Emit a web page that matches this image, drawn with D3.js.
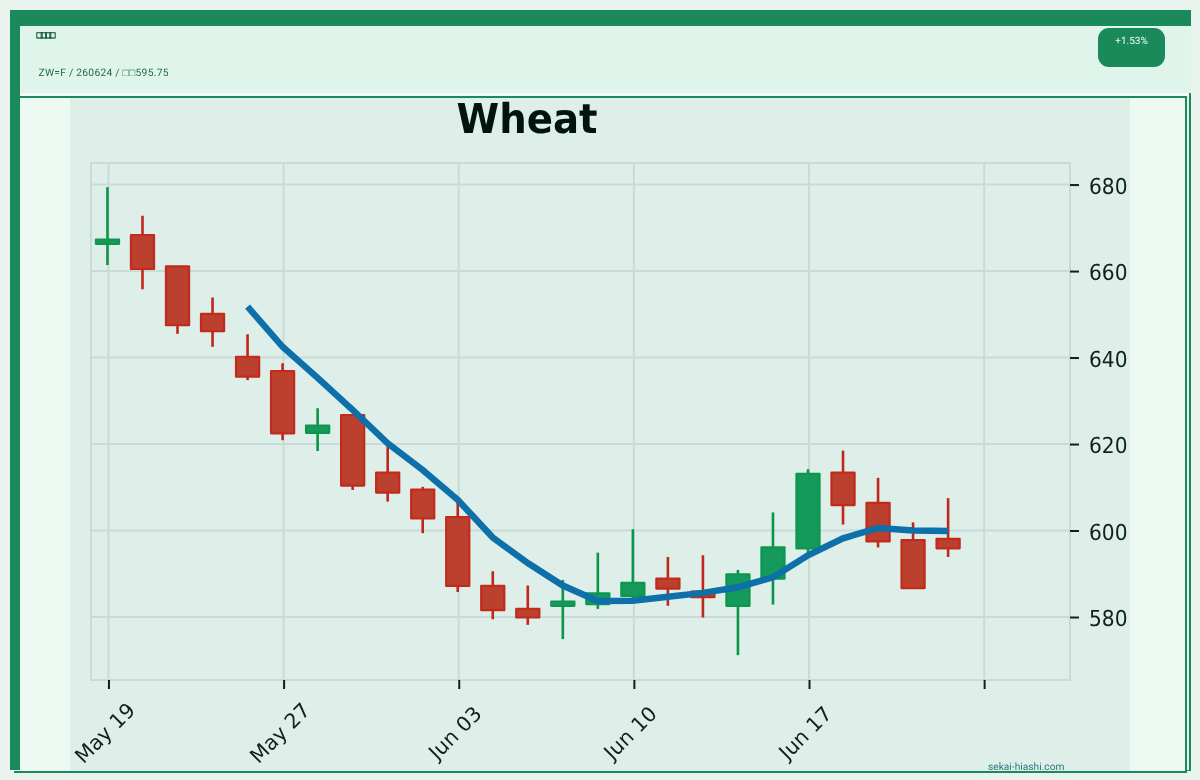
<!DOCTYPE html>
<html><head><meta charset="utf-8">
<script src="https://cdn.jsdelivr.net/npm/d3@7"></script>
<style>html,body{margin:0;padding:0;background:#eaf4ef;overflow:hidden}svg{display:block;text-rendering:geometricPrecision}</style>
</head><body><svg id="c" width="1200" height="780"></svg>
<script>
const chartTitle = "Wheat";
const headerName = "□□□□";
const headerInfo = "ZW=F / 260624 / □□595.75";
const changeLabel = "+1.53%";
const siteLabel = "sekai-hiashi.com";
const tickIndex = [0,5,10,15,20,25];
const tickLabels = ["May 19","May 27","Jun 03","Jun 10","Jun 17",""];
const priceTicks = [580,600,620,640,660,680];
const opens  = [666.4,668.4,661.2,650.2,640.3,637.0,622.7,626.8,613.5,609.6,603.2,587.3,582.0,582.7,583.1,585.0,589.0,586.0,582.7,589.0,596.0,613.5,606.5,597.9,598.2];
const highs  = [679.5,672.9,661.2,654.0,645.5,638.8,628.4,627.0,619.9,610.2,606.5,590.7,587.4,588.7,595.0,600.4,594.0,594.4,591.0,604.3,614.3,618.6,612.3,602.0,607.6];
const lows   = [661.5,655.9,645.6,642.6,634.9,621.0,618.5,609.5,606.8,599.5,585.9,579.6,578.3,575.0,582.0,584.4,582.7,580.0,571.3,583.0,594.5,601.5,596.2,586.6,594.0];
const closes = [667.4,660.6,647.6,646.2,635.7,622.6,624.4,610.5,608.9,602.9,587.3,581.7,580.0,583.7,585.6,588.0,586.7,584.7,590.0,596.2,613.2,606.0,597.6,586.8,596.0];
const smaStart = 4;
const smaValues = [651.9,642.6,635.4,628.0,620.3,614.1,607.2,598.5,592.6,587.4,583.8,583.9,584.8,585.7,587.0,589.3,594.4,598.3,600.7,600.1,600.0];

const svg = d3.select("#c");
const green = "#1b8a5a";
const box = (x,y,w,h,f,g=svg)=>g.append("rect").attr("x",x).attr("y",y).attr("width",w).attr("height",h).attr("fill",f);

box(10,10,1181,16,green);
box(10,10,10,760,green);
box(20,26,1171,67,"#dff4ea");
box(20,93,1171,3,"#f1faf6");
box(20,98,1165,673,"#ecfaf3");
box(70,98,1060,673,"#deefe9");

const defs = svg.append("defs");
defs.append("filter").attr("id","soft").append("feGaussianBlur").attr("stdDeviation",0.5);
const plot = svg.append("g").attr("filter","url(#soft)");

const x = d3.scaleLinear().domain([-0.47,27.48]).range([91,1070]);
const y = d3.scaleLinear().domain([565.55,685.1]).range([680,163]);
const gridC = "#c9dbd9", ink = "#10201c";

// grid + frame
plot.append("g").attr("transform","translate(1,0)").selectAll("line").data(tickIndex).join("line")
  .attr("x1",d=>x(d)).attr("x2",d=>x(d)).attr("y1",y.range()[1]).attr("y2",y.range()[0])
  .attr("stroke",gridC).attr("stroke-width",2);
plot.append("g").attr("transform","translate(0,-0.5)").selectAll("line").data(priceTicks).join("line")
  .attr("x1",x.range()[0]).attr("x2",x.range()[1]).attr("y1",d=>y(d)).attr("y2",d=>y(d))
  .attr("stroke",gridC).attr("stroke-width",2);
plot.append("rect").attr("x",x.range()[0]).attr("y",y.range()[1])
  .attr("width",x.range()[1]-x.range()[0]).attr("height",y.range()[0]-y.range()[1])
  .attr("fill","none").attr("stroke",gridC).attr("stroke-width",2);

// axes
const yAxis = d3.axisRight(y).tickValues(priceTicks).tickSize(9).tickPadding(10);
const gy = plot.append("g").attr("transform",`translate(${x.range()[1]},-0.5)`).call(yAxis);
gy.select(".domain").remove();
gy.selectAll("line").attr("stroke",ink).attr("stroke-width",2);
gy.selectAll("text").attr("font-family","DejaVu Sans").attr("font-size",22).attr("fill",ink)
  .attr("dy","0.4em").attr("textLength",38.5).attr("lengthAdjust","spacingAndGlyphs");

const xAxis = d3.axisBottom(x).tickValues(tickIndex).tickSize(9).tickFormat((d,i)=>tickLabels[i]);
const gx = plot.append("g").attr("transform",`translate(1,${y.range()[0]})`).call(xAxis);
gx.select(".domain").remove();
gx.selectAll("line").attr("stroke",ink).attr("stroke-width",2);
gx.selectAll("text").attr("font-family","DejaVu Sans").attr("font-size",20.5).attr("fill",ink)
  .attr("text-anchor","middle").attr("dy",0).attr("y",0)
  .attr("dominant-baseline","central")
  .attr("transform","translate(-4,53) rotate(-45)");

// candles
const idx = d3.range(opens.length);
const bw = x(0.66)-x(0);
const colUp = {wick:"#0a9447",edge:"#0e9650",fill:"#159a5b"};
const colDn = {wick:"#c0261a",edge:"#c12c1e",fill:"#bb3f2f"};
const col = i => closes[i]>=opens[i]?colUp:colDn;
plot.append("g").selectAll("line").data(idx).join("line")
  .attr("x1",x).attr("x2",x).attr("y1",i=>y(highs[i])).attr("y2",i=>y(lows[i]))
  .attr("stroke",i=>col(i).wick).attr("stroke-width",2.6);
plot.append("g").selectAll("rect").data(idx).join("rect")
  .attr("x",i=>x(i)-bw/2).attr("width",bw)
  .attr("y",i=>y(Math.max(opens[i],closes[i])))
  .attr("height",i=>Math.abs(y(opens[i])-y(closes[i])))
  .attr("fill",i=>col(i).fill).attr("stroke",i=>col(i).edge).attr("stroke-width",2.2)
  .attr("stroke-linejoin","round");

// moving average
const line = d3.line().x((d,i)=>x(i+smaStart)).y(d=>y(d));
plot.append("path").datum(smaValues).attr("d",line).attr("fill","none")
  .attr("stroke","#0f6fa8").attr("stroke-width",6.5);

// title
plot.append("text").text(chartTitle).attr("x",527).attr("y",132.5).attr("text-anchor","middle")
  .attr("font-family","DejaVu Sans").attr("font-weight","bold").attr("font-size",41).attr("fill","#04150f")
  .attr("textLength",141).attr("lengthAdjust","spacingAndGlyphs");

// watermark + frame lines over the chart
svg.append("text").text(siteLabel).attr("x",988).attr("y",770).attr("font-family","Roboto")
  .attr("font-size",10.2).attr("fill","#2a7a80");
box(20,96,1167,2,green);
box(1185,96,2,675,green);
box(1189,93,2,678,green);
box(1187,770,4,1,green);
box(14,771,1173,2,green);

// header
svg.append("text").text(headerName).attr("x",36).attr("y",37.5).attr("font-family","Noto Sans CJK JP")
  .attr("font-size",7).attr("font-weight","bold").attr("fill","#14583f").attr("stroke","#14583f").attr("stroke-width",0.6)
  .attr("textLength",20);
svg.append("text").text(headerInfo).attr("x",38.5).attr("y",76).attr("font-family","Roboto")
  .attr("font-size",10.3).attr("fill","#1f6b50").attr("textLength",130);
box(1098,28,67,39,green).attr("rx",11);
svg.append("text").text(changeLabel).attr("x",1131.5).attr("y",44).attr("text-anchor","middle")
  .attr("font-family","Roboto").attr("font-size",10).attr("fill","#eafff5");
</script></body></html>
